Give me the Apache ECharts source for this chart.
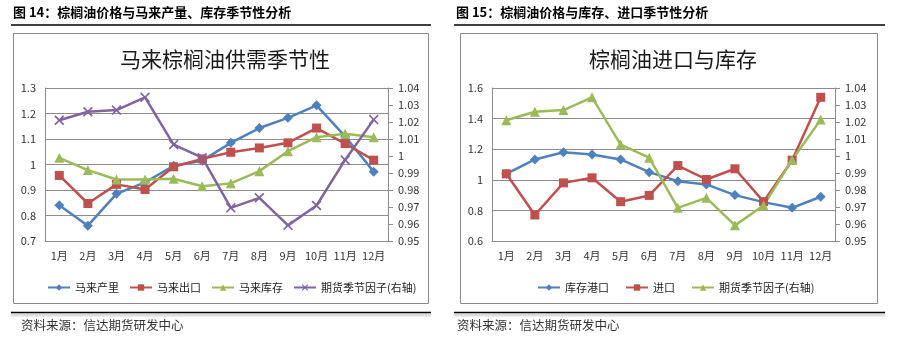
<!DOCTYPE html>
<html>
<head>
<meta charset="utf-8">
<script src="https://cdn.jsdelivr.net/npm/echarts@6/dist/echarts.min.js"></script>
<style>
    body { margin: 0; background: #fff; }
    #season-chart { width: 897px; height: 350px; }
</style>
</head>
<body>
<div id="season-chart"></div>
<script>
// Months on both x axes
let months = ['1月', '2月', '3月', '4月', '5月', '6月', '7月', '8月', '9月', '10月', '11月', '12月'];

// Fig 14: Malaysian supply seasonality (left axis)
let malay_output = [0.84, 0.76, 0.885, 0.93, 0.995, 1.015, 1.085, 1.143, 1.183, 1.232, 1.11, 0.972];
let malay_export = [0.957, 0.847, 0.922, 0.902, 0.991, 1.022, 1.048, 1.065, 1.085, 1.143, 1.082, 1.017];
let malay_stock = [1.026, 0.978, 0.941, 0.941, 0.944, 0.915, 0.926, 0.974, 1.052, 1.107, 1.121, 1.107];

// Futures seasonal factor (right axis, used in both charts)
let season_factor = [1.021, 1.026, 1.027, 1.0345, 1.0067, 0.999, 0.9695, 0.9754, 0.9592, 0.9709, 0.9977, 1.0214];

// Fig 15: imports and port stocks (left axis)
let port_stock = [1.039, 1.133, 1.18, 1.165, 1.133, 1.05, 0.991, 0.97, 0.9, 0.854, 0.817, 0.889];
let imports = [1.039, 0.77, 0.98, 1.013, 0.857, 0.898, 1.093, 1.002, 1.072, 0.857, 1.128, 1.539];

const BLUE = '#4F81BD';
const RED = '#C0504D';
const GREEN = '#9BBB59';
const PURPLE = '#8064A2';
const FONT = '"Noto Sans CJK SC", "Noto Sans", sans-serif';
const GRID_COLOR = '#8c8c8c';
const X_SYMBOL = 'path://M0,1.2 L1.2,0 L5,3.8 L8.8,0 L10,1.2 L6.2,5 L10,8.8 L8.8,10 L5,6.2 L1.2,10 L0,8.8 L3.8,5 Z';

function trimNumber(v) {
    return String(Number(v.toFixed(2)));
}

function leftAxis(gridIndex, min, max, interval) {
    return {
        type: 'value',
        gridIndex: gridIndex,
        min: min,
        max: max,
        interval: interval,
        axisLine: {show: true, lineStyle: {color: GRID_COLOR}},
        axisTick: {show: false},
        splitLine: {lineStyle: {color: GRID_COLOR, width: 1}},
        axisLabel: {color: '#333', fontSize: 11, fontFamily: FONT, margin: 9, formatter: trimNumber}
    };
}

function rightAxis(gridIndex) {
    return {
        type: 'value',
        gridIndex: gridIndex,
        position: 'right',
        min: 0.95,
        max: 1.04,
        interval: 0.01,
        axisLine: {show: true, lineStyle: {color: GRID_COLOR}},
        axisTick: {show: true, inside: false, length: 5, lineStyle: {color: GRID_COLOR}},
        splitLine: {show: false},
        axisLabel: {color: '#333', fontSize: 11, fontFamily: FONT, margin: 10, formatter: trimNumber}
    };
}

function monthAxis(gridIndex) {
    return {
        type: 'category',
        gridIndex: gridIndex,
        boundaryGap: true,
        data: months,
        axisLine: {lineStyle: {color: GRID_COLOR}},
        axisTick: {show: false},
        axisLabel: {color: '#333', fontSize: 11, fontFamily: FONT, margin: 9, interval: 0}
    };
}

function lineSeries(name, data, color, symbol, size, xIndex, yIndex) {
    return {
        name: name,
        type: 'line',
        xAxisIndex: xIndex,
        yAxisIndex: yIndex,
        data: data,
        symbol: symbol,
        symbolSize: size,
        showAllSymbol: true,
        lineStyle: {color: color, width: 2.5},
        itemStyle: {color: color, borderWidth: 0},
        emphasis: {disabled: true},
        animation: false
    };
}

// Decorative frame around each figure: header rule, chart box, footer rule
function frame(x0, x1, boxX0, boxX1, header, footerX) {
    return [
        {type: 'text', left: x0 + 2, top: 6, style: {text: header, font: 'bold 13px ' + FONT, fill: '#000'}},
        {type: 'line', shape: {x1: x0, y1: 25, x2: x1, y2: 25}, style: {stroke: '#000', lineWidth: 1.5}},
        {type: 'rect', shape: {x: boxX0, y: 33.5, width: boxX1 - boxX0, height: 270}, style: {fill: 'none', stroke: '#8a8a8a', lineWidth: 1}},
        {type: 'line', shape: {x1: x0, y1: 315, x2: x1, y2: 315}, style: {stroke: '#ddd', lineWidth: 3}},
        {type: 'line', shape: {x1: x0, y1: 312.5, x2: x1, y2: 312.5}, style: {stroke: '#000', lineWidth: 1.5}},
        {type: 'text', left: footerX, top: 319, style: {text: '资料来源：信达期货研发中心', font: '12.5px ' + FONT, fill: '#333'}}
    ];
}

let season_chart = echarts.init(document.getElementById('season-chart'));

let option = {
    backgroundColor: '#fff',
    animation: false,
    title: [
        {text: '马来棕榈油供需季节性', left: 220, top: 44, textAlign: 'center',
            textStyle: {fontSize: 21, fontWeight: 'normal', color: '#1a1a1a', fontFamily: FONT}},
        {text: '棕榈油进口与库存', left: 668, top: 44, textAlign: 'center',
            textStyle: {fontSize: 21, fontWeight: 'normal', color: '#1a1a1a', fontFamily: FONT}}
    ],
    grid: [
        {left: 45, right: 509, top: 88, height: 153},
        {left: 492, right: 62, top: 88, height: 153}
    ],
    legend: [
        {
            left: 42, top: 277, itemWidth: 22, itemHeight: 8, itemGap: 10,
            data: ['马来产里', '马来出口', '马来库存', '期货季节因子(右轴)'],
            textStyle: {fontSize: 11, color: '#222', fontFamily: FONT}
        },
        {
            left: 532, top: 277, itemWidth: 22, itemHeight: 8, itemGap: 16,
            data: ['库存港口', '进口', '期货季节因子(右轴) '],
            textStyle: {fontSize: 11, color: '#222', fontFamily: FONT}
        }
    ],
    xAxis: [monthAxis(0), monthAxis(1)],
    yAxis: [
        leftAxis(0, 0.7, 1.3, 0.1),
        rightAxis(0),
        leftAxis(1, 0.6, 1.6, 0.2),
        rightAxis(1)
    ],
    series: [
        lineSeries('马来产里', malay_output, BLUE, 'diamond', 10, 0, 0),
        lineSeries('马来出口', malay_export, RED, 'rect', 9, 0, 0),
        lineSeries('马来库存', malay_stock, GREEN, 'triangle', 10, 0, 0),
        lineSeries('期货季节因子(右轴)', season_factor, PURPLE, X_SYMBOL, 10, 0, 1),
        lineSeries('库存港口', port_stock, BLUE, 'diamond', 10, 1, 2),
        lineSeries('进口', imports, RED, 'rect', 9, 1, 2),
        lineSeries('期货季节因子(右轴) ', season_factor, GREEN, 'triangle', 10, 1, 3)
    ],
    graphic: frame(11, 431, 13.5, 428.5, '图 14：棕榈油价格与马来产量、库存季节性分析', 21)
        .concat(frame(454, 885, 460.5, 877.5, '图 15：棕榈油价格与库存、进口季节性分析', 457))
};

season_chart.setOption(option);

window.addEventListener('resize', function () {
    season_chart?.resize();
});
</script>
</body>
</html>
